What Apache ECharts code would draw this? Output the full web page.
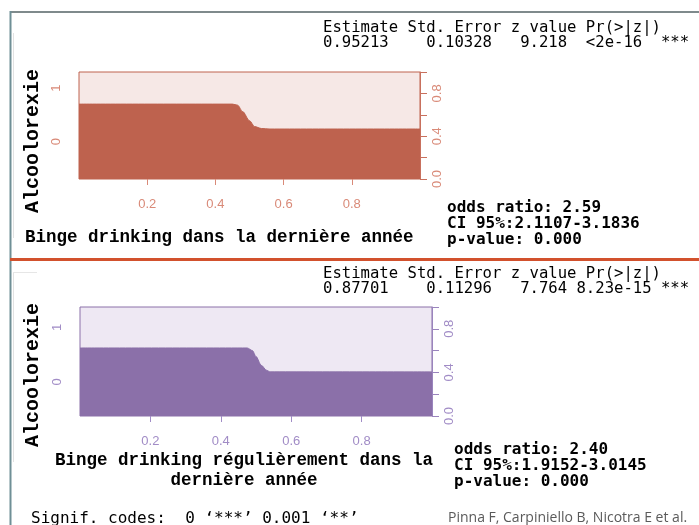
<!DOCTYPE html>
<html>
<head>
<meta charset="utf-8">
<script src="https://cdn.jsdelivr.net/npm/echarts@6/dist/echarts.min.js"></script>
<style>html,body{margin:0;padding:0;background:#fff}#c{width:699px;height:525px}</style>
</head>
<body>
<div id="c"></div>
<script>
// ---- data ----
const topX = [0, 0.45, 0.465, 0.48, 0.50, 0.515, 0.535, 0.56, 1];
const topY = [0.70, 0.70, 0.69, 0.63, 0.545, 0.49, 0.472, 0.467, 0.467];
const botX = [0, 0.475, 0.49, 0.50, 0.515, 0.53, 0.54, 1];
const botY = [0.624, 0.624, 0.60, 0.545, 0.465, 0.42, 0.405, 0.404];
const xTicks = [0.2, 0.4, 0.6, 0.8];
const yRightLabels = [0, 0.4, 0.8];
const levelLabels = ['0', '1'];
const statHeader = 'Estimate Std. Error z value Pr(>|z|)';
const statTop = '0.95213    0.10328   9.218  <2e-16  ***';
const statBot = '0.87701    0.11296   7.764 8.23e-15 ***';
const oddsTop = ['odds ratio: 2.59', 'CI 95%:2.1107-3.1836', 'p-value: 0.000'];
const oddsBot = ['odds ratio: 2.40', 'CI 95%:1.9152-3.0145', 'p-value: 0.000'];
const yTitle = 'Alcoolorexie';
const xTitleTop = 'Binge drinking dans la dernière année';
const xTitleBot = ['Binge drinking régulièrement dans la', 'dernière année'];
const signif = 'Signif. codes:  0 \u2018***\u2019 0.001 \u2018**\u2019';
const source = 'Pinna F, Carpiniello B, Nicotra E et al.';

// ---- styles ----
const red = {dark: '#be624e', light: '#f6e8e6', label: '#d98a78', axis: '#c8705d'};
const pur = {dark: '#8b70a9', light: '#eee8f3', label: '#a18cc6', axis: '#9a84bd'};
const mono = 'DejaVu Sans Mono';
const courier = 'Liberation Mono';

const chart = echarts.init(document.getElementById('c'));

function pts(xs, ys) { return xs.map((x, i) => [x, ys[i]]); }
function levelPos(ys) { const l = ys[0]; return [l / 2, (1 + l) / 2]; }

function xAxisFor(gi, c) {
  return {
    type: 'value', gridIndex: gi, min: 0, max: 1,
    axisLine: {show: false, onZero: false},
    splitLine: {show: false},
    axisTick: {show: true, customValues: xTicks, length: 6, lineStyle: {color: c.label}},
    axisLabel: {customValues: xTicks, color: c.label, fontSize: 13, fontFamily: 'Liberation Sans', margin: 19,
      formatter: v => v.toFixed(1)}
  };
}
function yRight(gi, c) {
  return {
    type: 'value', gridIndex: gi, position: 'right', min: 0, max: 1, interval: 0.2,
    splitLine: {show: false},
    axisLine: {show: true, onZero: false, lineStyle: {color: c.axis}},
    axisTick: {show: true, length: 7, lineStyle: {color: c.axis}},
    axisLabel: {customValues: yRightLabels, rotate: 90, color: c.label, fontSize: 13, fontFamily: 'Liberation Sans',
      margin: 11, formatter: v => v.toFixed(1)}
  };
}
function yLeft(gi, c, ys) {
  const pos = levelPos(ys);
  return {
    type: 'value', gridIndex: gi, position: 'left', min: 0, max: 1,
    splitLine: {show: false}, axisLine: {show: false, onZero: false},
    axisTick: {show: false},
    axisLabel: {customValues: pos, rotate: 90, color: c.label, fontSize: 13, fontFamily: 'Liberation Sans', margin: 16,
      formatter: v => (v < pos[1] - 1e-9 ? levelLabels[0] : levelLabels[1])}
  };
}
function areaSeries(xi, yi, data, c) {
  return {
    type: 'line', xAxisIndex: xi, yAxisIndex: yi, data: data, symbol: 'none',
    smooth: 0.3, smoothMonotone: 'x',
    lineStyle: {color: c.dark, width: 1},
    areaStyle: {color: c.dark, opacity: 1}, silent: true, animation: false
  };
}
function txt(x, y, text, font, opts) {
  return {
    type: 'text', x: x, y: y,
    style: Object.assign({text: text, font: font, fill: '#000', textVerticalAlign: 'middle'}, opts || {})
  };
}

const graphics = [
  // frame
  {type: 'line', shape: {x1: 10, y1: 12, x2: 699, y2: 12}, style: {stroke: '#7f8a8c', lineWidth: 2}},
  {type: 'line', shape: {x1: 10.5, y1: 11, x2: 10.5, y2: 525}, style: {stroke: '#6f8f96', lineWidth: 2}},
  {type: 'rect', shape: {x: 10, y: 258, width: 689, height: 3}, style: {fill: '#d2512d'}},
  {type: 'line', shape: {x1: 13.5, y1: 33, x2: 13.5, y2: 238}, style: {stroke: '#e2e2e2', lineWidth: 1}},
  {type: 'line', shape: {x1: 13.5, y1: 272, x2: 13.5, y2: 462}, style: {stroke: '#e2e2e2', lineWidth: 1}},
  {type: 'line', shape: {x1: 13, y1: 272.5, x2: 37, y2: 272.5}, style: {stroke: '#e6e6e6', lineWidth: 1}},
  // stats
  txt(323, 28, statHeader, '15.6px "' + mono + '"'),
  txt(323, 43, statTop, '15.6px "' + mono + '"'),
  txt(323, 274, statHeader, '15.6px "' + mono + '"'),
  txt(323, 289, statBot, '15.6px "' + mono + '"'),
  // y titles
  {type: 'text', x: 33, y: 141, rotation: Math.PI / 2,
    style: {text: yTitle, font: 'bold 20px "' + courier + '"', fill: '#000', textAlign: 'center', textVerticalAlign: 'middle'}},
  {type: 'text', x: 33, y: 375, rotation: Math.PI / 2,
    style: {text: yTitle, font: 'bold 20px "' + courier + '"', fill: '#000', textAlign: 'center', textVerticalAlign: 'middle'}},
  // x titles
  txt(25, 238, xTitleTop, 'bold 17.5px "' + courier + '"'),
  txt(244, 461, xTitleBot[0], 'bold 17.5px "' + courier + '"', {textAlign: 'center'}),
  txt(244, 481, xTitleBot[1], 'bold 17.5px "' + courier + '"', {textAlign: 'center'}),
  // odds
  txt(447, 208, oddsTop[0], 'bold 16px "' + mono + '"'),
  txt(447, 224, oddsTop[1], 'bold 16px "' + mono + '"'),
  txt(447, 240, oddsTop[2], 'bold 16px "' + mono + '"'),
  txt(454, 450, oddsBot[0], 'bold 16px "' + mono + '"'),
  txt(454, 466, oddsBot[1], 'bold 16px "' + mono + '"'),
  txt(454, 482, oddsBot[2], 'bold 16px "' + mono + '"'),
  // footer
  txt(31, 519, signif, '16px "' + mono + '"'),
  txt(448, 518, source, '14px "Open Sans"', {fill: '#5a5a5a'})
];

chart.setOption({
  animation: false,
  backgroundColor: '#fff',
  grid: [
    {left: 79, top: 72, width: 341, height: 107, show: true, backgroundColor: red.light, borderColor: red.dark, borderWidth: 1},
    {left: 80, top: 307, width: 352, height: 109, show: true, backgroundColor: pur.light, borderColor: pur.dark, borderWidth: 1}
  ],
  xAxis: [xAxisFor(0, red), xAxisFor(1, pur)],
  yAxis: [yRight(0, red), yLeft(0, red, topY), yRight(1, pur), yLeft(1, pur, botY)],
  series: [
    areaSeries(0, 0, pts(topX, topY), red),
    areaSeries(1, 2, pts(botX, botY), pur)
  ],
  graphic: graphics
});
</script>
</body>
</html>
